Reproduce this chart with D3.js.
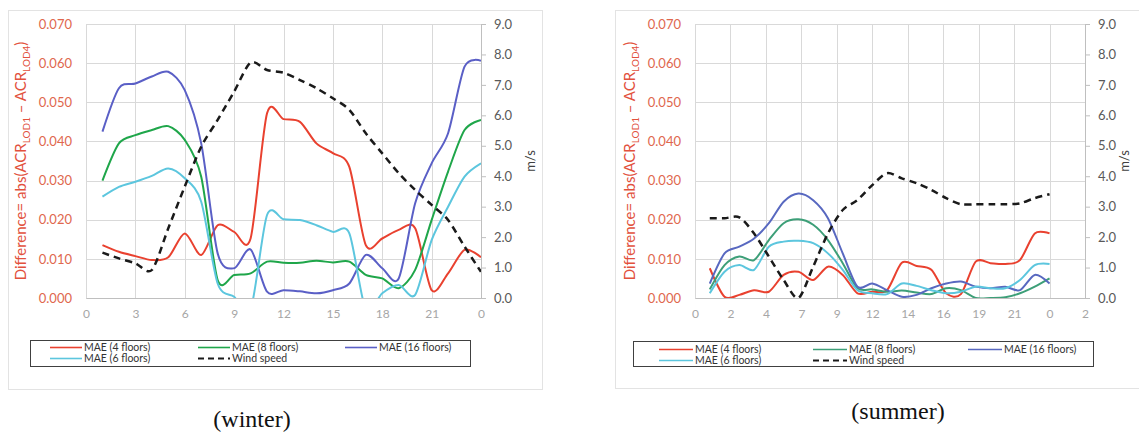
<!DOCTYPE html>
<meta charset="utf-8">
<script src="https://d3js.org/d3.v7.min.js"></script>
<style>
  body { margin: 0; background: #fff; }
  text { font-family: Lato, "Open Sans", sans-serif; }
</style>
<div id="chart"></div>
<script>

// hours 1..24 (24 is shown as "0")
const hours = d3.range(1, 25);

// winter series (MAE on left axis, wind on right axis in m/s)
const winterMae4 = [0.0135, 0.0118, 0.0107, 0.0097, 0.0104, 0.0165, 0.0110, 0.0186, 0.0169, 0.0152, 0.0472, 0.0457,
                    0.0450, 0.0395, 0.0370, 0.0335, 0.0135, 0.0152, 0.0174, 0.0178, 0.0020, 0.0063, 0.0123, 0.0104];
const winterMae8 = [0.0300, 0.0395, 0.0416, 0.0429, 0.0439, 0.0404, 0.0310, 0.0046, 0.0059, 0.0063, 0.0093, 0.0090,
                    0.0090, 0.0095, 0.0091, 0.0093, 0.0059, 0.0050, 0.0025, 0.0072, 0.0199, 0.0323, 0.0429, 0.0455];
const winterMae16 = [0.0425, 0.0536, 0.0548, 0.0566, 0.0578, 0.0531, 0.0395, 0.0114, 0.0076, 0.0124, 0.0016, 0.0020,
                     0.0017, 0.0012, 0.0020, 0.0037, 0.0110, 0.0076, 0.0050, 0.0242, 0.0344, 0.0421, 0.0591, 0.0606];
const winterMae6 = [0.0259, 0.0284, 0.0297, 0.0312, 0.0331, 0.0306, 0.0246, 0.0037, 0.0003, -0.0030, 0.0212, 0.0201,
                    0.0199, 0.0186, 0.0169, 0.0165, -0.0030, 0.0012, 0.0033, 0.0008, 0.0148, 0.0233, 0.0310, 0.0344];
const winterWind = [1.49, 1.30, 1.14, 0.92, 2.29, 3.66, 4.97, 5.85, 6.78, 7.73, 7.49, 7.40,
                    7.16, 6.89, 6.56, 6.18, 5.41, 4.75, 4.10, 3.55, 3.06, 2.56, 1.69, 0.86];

// summer series
const summerMae4 = [0.0076, 0.0003, 0.0008, 0.0020, 0.0016, 0.0059, 0.0067, 0.0046, 0.0080, 0.0059, 0.0012, 0.0016,
                    0.0020, 0.0090, 0.0082, 0.0072, 0.0012, 0.0010, 0.0093, 0.0089, 0.0087, 0.0097, 0.0165, 0.0165];
const summerMae8 = [0.0022, 0.0084, 0.0106, 0.0097, 0.0148, 0.0191, 0.0201, 0.0187, 0.0148, 0.0089, 0.0025, 0.0022,
                    0.0016, 0.0019, 0.0014, 0.0010, 0.0025, 0.0020, 0.0000, 0.0000, 0.0002, 0.0012, 0.0029, 0.0050];
const summerMae16 = [0.0037, 0.0114, 0.0131, 0.0152, 0.0191, 0.0246, 0.0267, 0.0250, 0.0204, 0.0114, 0.0029, 0.0037,
                     0.0020, 0.0003, 0.0008, 0.0025, 0.0037, 0.0042, 0.0029, 0.0025, 0.0029, 0.0020, 0.0059, 0.0037];
const summerMae6 = [0.0012, 0.0067, 0.0084, 0.0072, 0.0131, 0.0144, 0.0146, 0.0140, 0.0114, 0.0072, 0.0020, 0.0012,
                    0.0010, 0.0037, 0.0031, 0.0020, 0.0012, 0.0016, 0.0029, 0.0025, 0.0025, 0.0046, 0.0084, 0.0087];
const summerWind = [2.62, 2.62, 2.65, 2.12, 1.36, 0.59, 0.00, 1.03, 2.12, 2.89, 3.22, 3.71,
                    4.10, 3.93, 3.77, 3.55, 3.28, 3.08, 3.08, 3.08, 3.08, 3.11, 3.28, 3.41];

const leftTicks = [0, 0.01, 0.02, 0.03, 0.04, 0.05, 0.06, 0.07];
const rightTicks = [0, 1, 2, 3, 4, 5, 6, 7, 8, 9];
const winterXTicks = d3.range(0, 24.01, 3);
const summerXTicks = d3.range(0, 12).map(i => i * 2.4);

const legendLabels = ["MAE (4 floors)", "MAE (8 floors)", "MAE (16 floors)", "MAE (6 floors)", "Wind speed"];

const svg = d3.select("#chart").append("svg")
    .attr("width", 1139)
    .attr("height", 433);

const panels = [
  {
    name: "winter", caption: "(winter)", capX: 252, capY: 427,
    box: [8, 10, 534, 379],
    left: 86, right: 481, top: 24, bottom: 298,
    xMax: 24, xTicks: winterXTicks, msOffset: 49,
    colors: ["#e9412f", "#1fa64a", "#5a5fc6", "#5cc6de"],
    series: [winterMae4, winterMae8, winterMae16, winterMae6], wind: winterWind,
    legend: { x: 30, y: 340, w: 440, h: 26, cols: [20, 168, 315], rows: [7.5, 18.5], lineW: 32 }
  },
  {
    name: "summer", caption: "(summer)", capX: 898, capY: 419,
    box: [615, 10, 540, 378],
    left: 695, right: 1085, top: 24, bottom: 298,
    xMax: 26.4, xTicks: summerXTicks, msOffset: 39,
    colors: ["#e9412f", "#3d9f78", "#5868c0", "#5cc6de"],
    series: [summerMae4, summerMae8, summerMae16, summerMae6], wind: summerWind,
    legend: { x: 633, y: 341, w: 460, h: 25, cols: [26, 180, 335], rows: [8.5, 19.5], lineW: 34 }
  }
];

panels.forEach(drawPanel);

function drawPanel(p) {
  const g = svg.append("g");

  // chart area frame
  g.append("rect")
    .attr("x", p.box[0] + 0.5).attr("y", p.box[1] + 0.5)
    .attr("width", p.box[2]).attr("height", p.box[3])
    .attr("fill", "#fff").attr("stroke", "#e3e3e3");

  const x = d3.scaleLinear().domain([0, p.xMax]).range([p.left, p.right]);
  const y = d3.scaleLinear().domain([0, 0.07]).range([p.bottom, p.top]);
  const y2 = d3.scaleLinear().domain([0, 9]).range([p.bottom, p.top]);

  // gridlines
  g.append("g").selectAll("line.h").data(leftTicks).join("line")
    .attr("x1", p.left).attr("x2", p.right)
    .attr("y1", d => Math.round(y(d)) + 0.5).attr("y2", d => Math.round(y(d)) + 0.5)
    .attr("stroke", "#d9d9d9");
  g.append("g").selectAll("line.v").data(p.xTicks).join("line")
    .attr("x1", d => Math.round(x(d)) + 0.5).attr("x2", d => Math.round(x(d)) + 0.5)
    .attr("y1", p.top).attr("y2", p.bottom)
    .attr("stroke", "#d9d9d9");

  // left axis
  const leftAxis = g.append("g")
    .attr("transform", `translate(${p.left},0)`)
    .call(d3.axisLeft(y).tickValues(leftTicks).tickFormat(d3.format(".3f")).tickSize(0).tickPadding(14));
  leftAxis.select(".domain").remove();
  leftAxis.selectAll("text").attr("fill", "#e0674e").style("font-size", "13px");

  // right axis
  const rightAxis = g.append("g")
    .attr("transform", `translate(${p.right},0)`)
    .call(d3.axisRight(y2).tickValues(rightTicks).tickFormat(d3.format(".1f")).tickSize(5).tickPadding(8));
  rightAxis.select(".domain").attr("stroke", "#bfbfbf");
  rightAxis.selectAll("line").attr("stroke", "#bfbfbf");
  rightAxis.selectAll("text").attr("fill", "#595959").style("font-size", "13px");

  // bottom axis
  const fmt = d => String(Math.floor(d + 1e-6) % 24);
  const bottomAxis = g.append("g")
    .attr("transform", `translate(0,${p.bottom})`)
    .call(d3.axisBottom(x).tickValues(p.xTicks).tickFormat(fmt).tickSize(0).tickPadding(11));
  bottomAxis.select(".domain").attr("stroke", "#bfbfbf");
  bottomAxis.selectAll("text").attr("fill", "#a6a6a6").style("font-size", "12px");

  // left axis title with subscripts
  const title = g.append("text")
    .attr("transform", `translate(${p.left - 60},${(p.top + p.bottom) / 2}) rotate(-90)`)
    .attr("text-anchor", "middle")
    .attr("fill", "#e2513d")
    .style("font-size", "15px");
  title.append("tspan").text("Difference=  abs(ACR");
  title.append("tspan").attr("dy", 4).style("font-size", "10px").text("LOD1");
  title.append("tspan").attr("dy", -4).text(" \u2013 ACR");
  title.append("tspan").attr("dy", 4).style("font-size", "10px").text("LOD4");
  title.append("tspan").attr("dy", -4).text(")");

  // right axis title
  g.append("text")
    .attr("transform", `translate(${p.right + p.msOffset},${(p.top + p.bottom) / 2}) rotate(-90)`)
    .attr("text-anchor", "middle")
    .attr("dy", "0.35em")
    .attr("fill", "#404040")
    .style("font-size", "13px")
    .text("m/s");

  // clip lines to plot area
  const clipId = "clip-" + p.name;
  g.append("clipPath").attr("id", clipId)
    .append("rect")
    .attr("x", p.left).attr("y", p.top - 2)
    .attr("width", p.right - p.left).attr("height", p.bottom - p.top + 2);

  const plot = g.append("g").attr("clip-path", `url(#${clipId})`);

  const line = d3.line()
    .x((d, i) => x(hours[i]))
    .y(d => y(d))
    .curve(d3.curveCardinal.tension(0.15));

  const line2 = d3.line()
    .x((d, i) => x(hours[i]))
    .y(d => y2(d))
    .curve(d3.curveCardinal.tension(0.15));

  p.series.forEach((s, k) => {
    plot.append("path")
      .datum(s)
      .attr("d", line)
      .attr("fill", "none")
      .attr("stroke", p.colors[k])
      .attr("stroke-width", 2);
  });

  plot.append("path")
    .datum(p.wind)
    .attr("d", line2)
    .attr("fill", "none")
    .attr("stroke", "#1a1a1a")
    .attr("stroke-width", 2.5)
    .attr("stroke-dasharray", "7,5");

  // legend
  const L = p.legend;
  const lg = g.append("g").attr("transform", `translate(${L.x},${L.y})`);
  lg.append("rect")
    .attr("x", 0.5).attr("y", 0.5)
    .attr("width", L.w).attr("height", L.h)
    .attr("fill", "#fff").attr("stroke", "#404040");

  const items = [
    { label: legendLabels[0], color: p.colors[0], col: 0, row: 0 },
    { label: legendLabels[1], color: p.colors[1], col: 1, row: 0 },
    { label: legendLabels[2], color: p.colors[2], col: 2, row: 0 },
    { label: legendLabels[3], color: p.colors[3], col: 0, row: 1 },
    { label: legendLabels[4], color: "#1a1a1a", col: 1, row: 1, dash: true }
  ];

  const item = lg.selectAll("g.item").data(items).join("g")
    .attr("transform", d => `translate(${L.cols[d.col]},${L.rows[d.row]})`);
  item.append("line")
    .attr("x1", 0).attr("x2", L.lineW)
    .attr("stroke", d => d.color)
    .attr("stroke-width", d => d.dash ? 2 : 1.6)
    .attr("stroke-dasharray", d => d.dash ? "6,4" : null);
  item.append("text")
    .attr("x", L.lineW + 2)
    .attr("dy", "0.35em")
    .attr("fill", "#333")
    .style("font-size", "10.5px")
    .text(d => d.label);

  // caption under the chart
  svg.append("text")
    .attr("x", p.capX).attr("y", p.capY)
    .attr("text-anchor", "middle")
    .style("font-family", "'Liberation Serif', 'DejaVu Serif', serif")
    .style("font-size", "24px")
    .attr("fill", "#111")
    .text(p.caption);
}

</script>
